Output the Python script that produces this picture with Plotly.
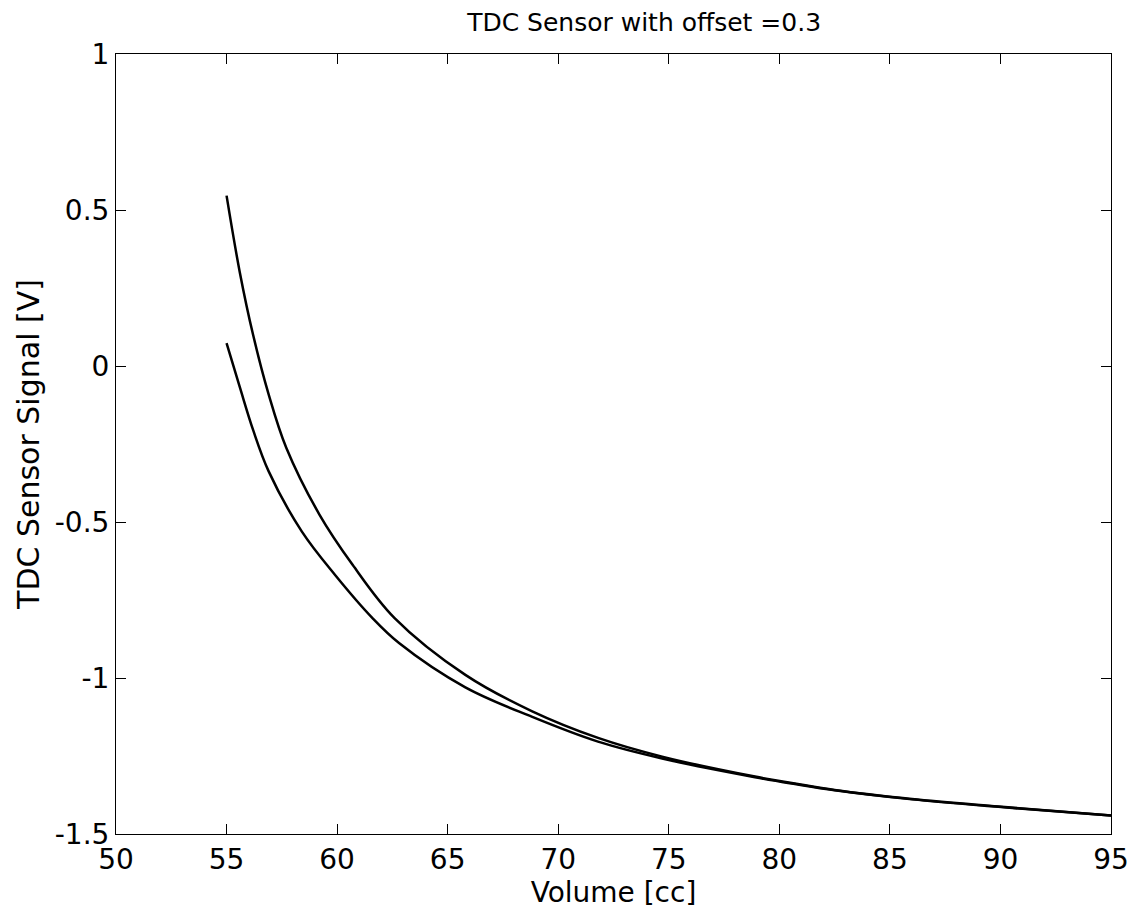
import plotly.graph_objects as go

# Upper curve
vol_upper = [55.0, 55.6, 56.2, 56.9, 57.7, 59.2, 60.7, 62.6, 65.8, 68.8, 71.8, 74.7, 78.9, 80.7, 82.5, 86.0, 89.9, 95.0]
sig_upper = [0.546, 0.300, 0.100, -0.090, -0.262, -0.476, -0.637, -0.808, -0.990, -1.106, -1.192, -1.252, -1.316, -1.338, -1.359, -1.388, -1.412, -1.441]

# Lower curve
vol_lower = [55.0, 55.6, 56.2, 56.9, 58.4, 59.9, 61.6, 62.8, 65.8, 68.8, 71.8, 74.7, 78.9, 80.7, 82.5, 86.0, 89.9, 95.0]
sig_lower = [0.073, -0.068, -0.205, -0.337, -0.530, -0.669, -0.808, -0.888, -1.030, -1.124, -1.204, -1.258, -1.318, -1.340, -1.360, -1.389, -1.413, -1.441]

x_ticks = [50, 55, 60, 65, 70, 75, 80, 85, 90, 95]
y_ticks = [1, 0.5, 0, -0.5, -1, -1.5]
y_tick_text = ["1", "0.5", "0", "-0.5", "-1", "-1.5"]

FONT = "DejaVu Sans"

fig = go.Figure()
for xs, ys in [(vol_upper, sig_upper), (vol_lower, sig_lower)]:
    fig.add_trace(go.Scatter(x=xs, y=ys, mode="lines",
                             line=dict(color="black", width=2.5, shape="spline", smoothing=1.0),
                             showlegend=False, hoverinfo="skip"))

axis_common = dict(showgrid=False, zeroline=False, showline=True, linecolor="black",
                   linewidth=1, mirror="ticks", ticks="inside", ticklen=10,
                   tickcolor="black", tickwidth=1,
                   tickfont=dict(family=FONT, size=28, color="black"))

fig.update_layout(
    width=1141, height=911,
    paper_bgcolor="white", plot_bgcolor="white",
    margin=dict(l=115.5, r=23, t=53.5, b=77),
    title=dict(text="TDC Sensor with offset =0.3", x=0.5645, xref="container",
               xanchor="center", y=0.976, yanchor="middle",
               font=dict(family=FONT, size=25, color="black")),
    xaxis=dict(range=[50, 95], tickvals=x_ticks,
               title=dict(text="Volume [cc]", standoff=2,
                          font=dict(family=FONT, size=28, color="black")),
               **axis_common),
    yaxis=dict(range=[-1.5, 1], tickvals=y_ticks, ticktext=y_tick_text,
               title=dict(text="TDC Sensor Signal [V]", standoff=6,
                          font=dict(family=FONT, size=30, color="black")),
               **axis_common),
)

fig.write_html("out.html")
